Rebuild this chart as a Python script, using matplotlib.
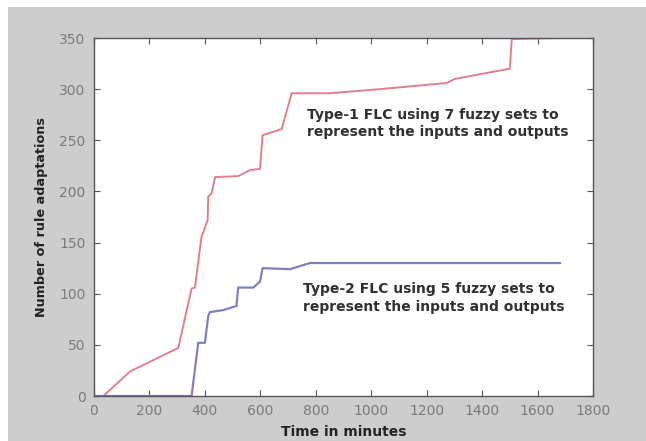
import matplotlib
matplotlib.use("Agg")
import matplotlib.pyplot as plt
from matplotlib.patches import Rectangle

# Type-1 FLC (7 fuzzy sets) - red curve
t1_time = [0, 34, 130, 304, 352, 364, 388, 394, 410, 412, 424, 437, 521, 563, 599, 608, 677, 713, 851, 1032, 1272, 1302, 1500, 1507, 1681]
t1_vals = [0, 0, 24, 47, 105, 106, 156, 160, 172, 195, 198, 214, 215, 221, 222, 255, 261, 296, 296, 300, 306, 310, 320, 349, 350]

# Type-2 FLC (5 fuzzy sets) - blue curve
t2_time = [0, 352, 376, 400, 412, 418, 466, 514, 520, 575, 599, 608, 707, 779, 1681]
t2_vals = [0, 0, 52, 52, 78, 82, 84, 88, 106, 106, 112, 125, 124, 130, 130]

x_ticks = [0, 200, 400, 600, 800, 1000, 1200, 1400, 1600, 1800]
y_ticks = [0, 50, 100, 150, 200, 250, 300, 350]

label1 = "Type-1 FLC using 7 fuzzy sets to\nrepresent the inputs and outputs"
label2 = "Type-2 FLC using 5 fuzzy sets to\nrepresent the inputs and outputs"

W, H = 646, 441
fig = plt.figure(figsize=(W / 100, H / 100), dpi=100)
fig.patch.set_facecolor("#cdcdcd")
# white strips along the left and top edges
fig.patches.append(Rectangle((0, 0), 8 / W, 1, transform=fig.transFigure,
                             facecolor="white", edgecolor="none", zorder=-10))
fig.patches.append(Rectangle((0, 1 - 7 / H), 1, 7 / H, transform=fig.transFigure,
                             facecolor="white", edgecolor="none", zorder=-10))

ax = fig.add_axes([94 / W, 45 / H, 499 / W, 358 / H])
ax.set_facecolor("white")
ax.plot(t1_time, t1_vals, color="#e0808f", lw=1.4)
ax.plot(t2_time, t2_vals, color="#8080c0", lw=1.6)

ax.set_xlim(0, 1800)
ax.set_ylim(0, 350)
ax.set_xticks(x_ticks)
ax.set_yticks(y_ticks)
ax.tick_params(direction="in", length=4, top=True, right=True, labelsize=10,
               labelcolor="#7a7a7a", color="#555555", pad=6)
for s in ax.spines.values():
    s.set_color("#555555")
    s.set_linewidth(1.0)

ax.set_xlabel("Time in minutes", fontsize=10, fontweight="bold", color="#222222", labelpad=5)
ax.set_ylabel("Number of rule adaptations", fontsize=9.2, fontweight="bold", color="#222222", labelpad=8)

ax.text(768, 282, label1, fontsize=10, fontweight="bold", color="#303030",
        va="top", ha="left", linespacing=1.3)
ax.text(754, 111, label2, fontsize=10, fontweight="bold", color="#303030",
        va="top", ha="left", linespacing=1.3)

fig.savefig("out.png", dpi=100, facecolor=fig.get_facecolor())
